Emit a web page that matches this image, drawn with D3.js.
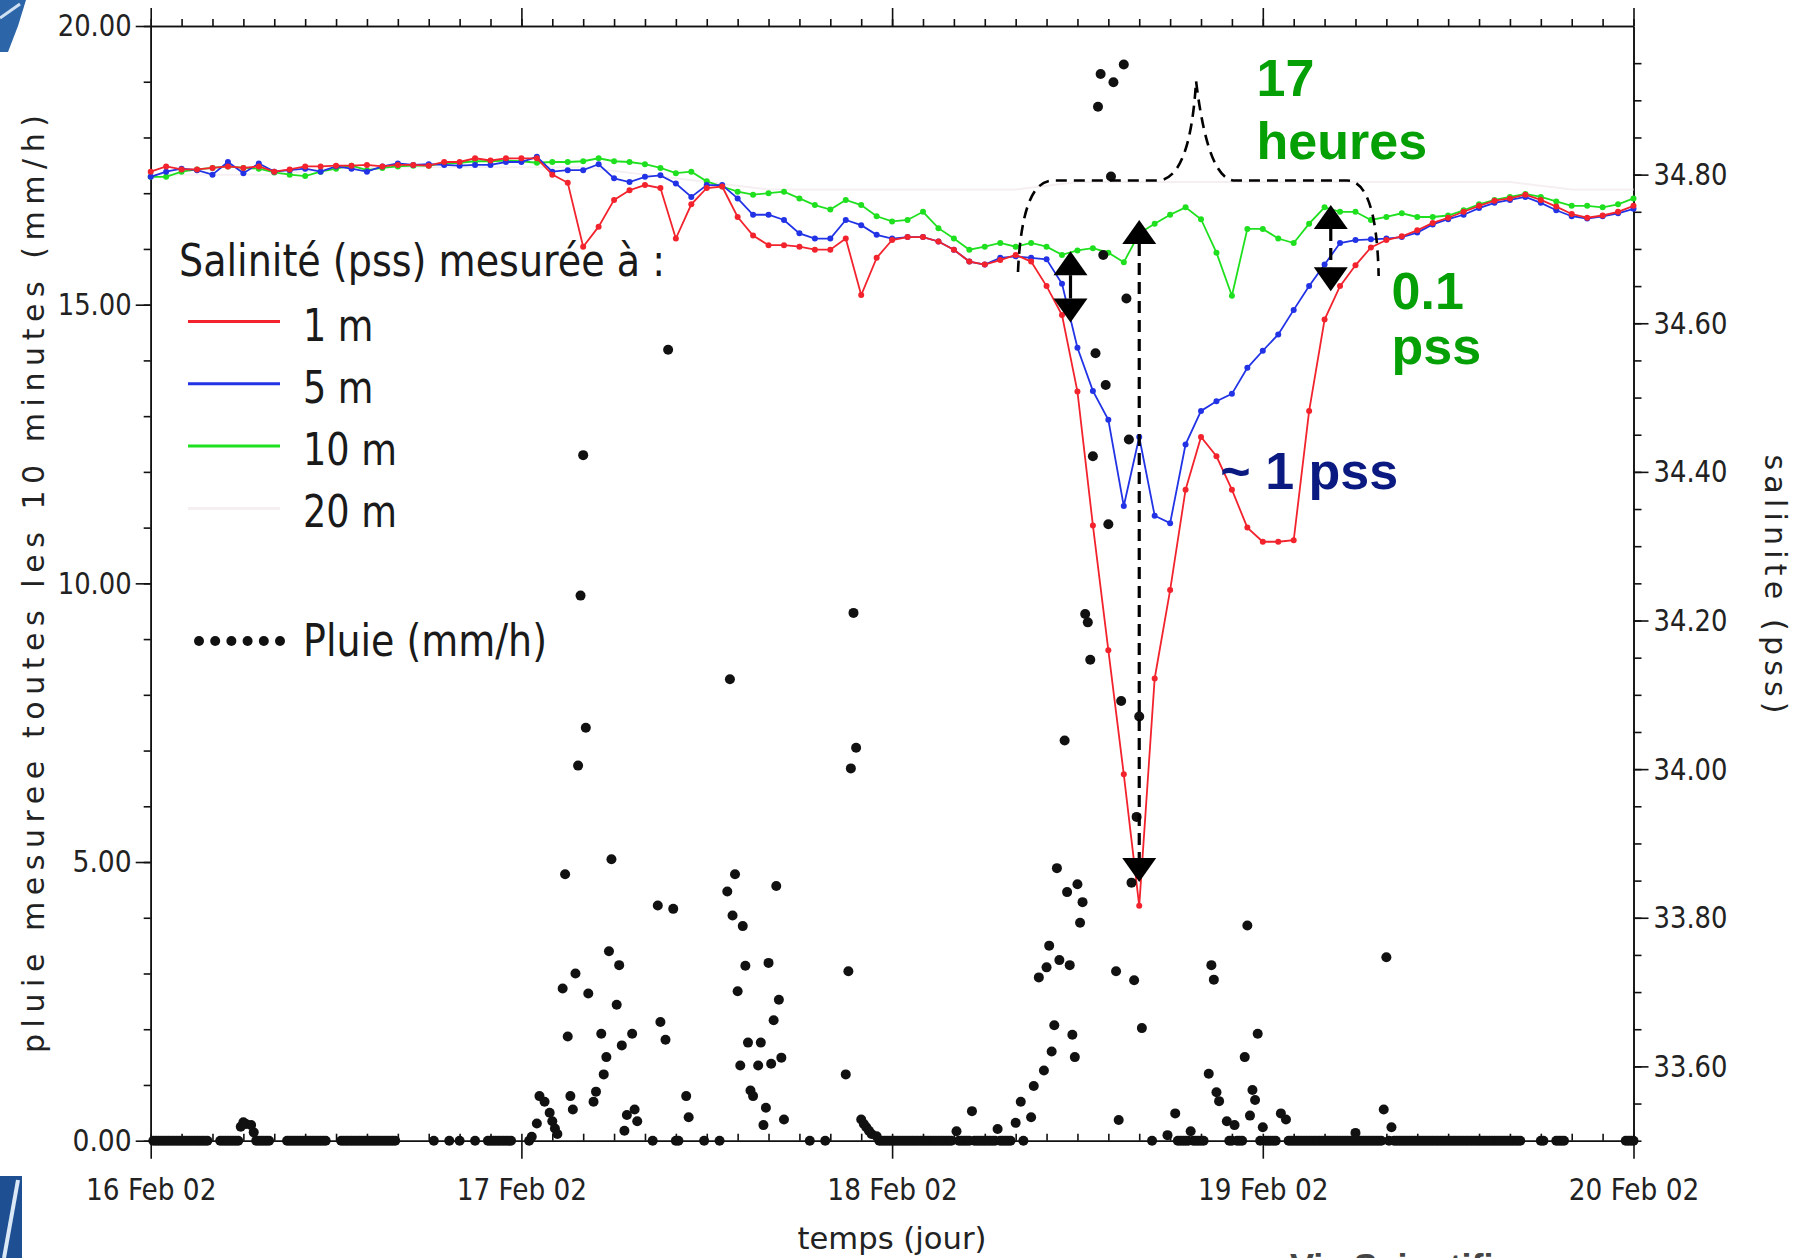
<!DOCTYPE html>
<html lang="fr">
<head>
<meta charset="UTF-8">
<title>Salinité et pluie, 16-20 Feb 2002</title>
<script src="https://d3js.org/d3.v7.min.js"></script>
<style>
  body { margin: 0; background: #fff; }
  svg { display: block; background: #fff; }
  .axis path, .axis line { stroke: #111; stroke-width: 1.6; }
  .axis text { font-family: "DejaVu Sans Condensed", "DejaVu Sans", sans-serif; font-size: 31px; fill: #222; }
  .title { font-family: "DejaVu Sans", sans-serif; fill: #222; }
  .legend text { font-family: "DejaVu Sans Condensed", "DejaVu Sans", sans-serif; font-size: 45px; fill: #1a1a1a; }
  .note { font-family: "Liberation Sans", Arial, sans-serif; font-weight: bold; font-size: 52px; }
</style>
</head>
<body>
<svg id="chart" width="1805" height="1258"></svg>
<script>
// hourly salinity (pss), from 16 Feb 02 00:00 to 20 Feb 02 00:00
const sal1m = [
  34.804, 34.811, 34.807, 34.807, 34.809, 34.811, 34.809, 34.811, 34.804, 34.807, 34.811, 34.811,
  34.812, 34.812, 34.813, 34.811, 34.813, 34.813, 34.812, 34.817, 34.817, 34.822, 34.819, 34.822,
  34.822, 34.822, 34.800, 34.789, 34.703, 34.730, 34.766, 34.779, 34.786, 34.782, 34.714, 34.760,
  34.782, 34.784, 34.743, 34.718, 34.705, 34.705, 34.703, 34.699, 34.699, 34.714, 34.638, 34.688,
  34.712, 34.716, 34.716, 34.710, 34.699, 34.683, 34.679, 34.685, 34.692, 34.683, 34.650, 34.611,
  34.508, 34.328, 34.160, 33.993, 33.816, 34.122, 34.241, 34.376, 34.447, 34.421, 34.376, 34.325,
  34.306, 34.306, 34.308, 34.482, 34.605, 34.650, 34.678, 34.702, 34.712, 34.717, 34.725, 34.735,
  34.742, 34.750, 34.758, 34.765, 34.768, 34.773, 34.766, 34.757, 34.747, 34.742, 34.745, 34.750,
  34.758
]
const sal5m = [
  34.797, 34.804, 34.808, 34.806, 34.800, 34.817, 34.802, 34.815, 34.804, 34.806, 34.808, 34.804,
  34.811, 34.808, 34.804, 34.811, 34.815, 34.813, 34.814, 34.813, 34.812, 34.813, 34.813, 34.817,
  34.817, 34.824, 34.804, 34.806, 34.806, 34.814, 34.795, 34.790, 34.797, 34.799, 34.788, 34.770,
  34.786, 34.786, 34.768, 34.746, 34.746, 34.739, 34.721, 34.714, 34.714, 34.739, 34.732, 34.719,
  34.714, 34.716, 34.716, 34.710, 34.699, 34.683, 34.679, 34.688, 34.690, 34.688, 34.686, 34.653,
  34.567, 34.509, 34.470, 34.354, 34.447, 34.341, 34.331, 34.437, 34.482, 34.495, 34.505, 34.540,
  34.563, 34.585, 34.618, 34.650, 34.679, 34.708, 34.712, 34.713, 34.714, 34.716, 34.722, 34.733,
  34.740, 34.746, 34.755, 34.762, 34.766, 34.770, 34.762, 34.752, 34.744, 34.741, 34.744, 34.748,
  34.754
]
const sal10m = [
  34.797, 34.797, 34.804, 34.807, 34.809, 34.811, 34.809, 34.808, 34.803, 34.800, 34.798, 34.804,
  34.808, 34.812, 34.806, 34.809, 34.811, 34.812, 34.812, 34.815, 34.816, 34.818, 34.818, 34.819,
  34.818, 34.816, 34.817, 34.817, 34.818, 34.822, 34.818, 34.817, 34.814, 34.809, 34.802, 34.804,
  34.791, 34.784, 34.777, 34.773, 34.775, 34.777, 34.768, 34.759, 34.753, 34.766, 34.759, 34.744,
  34.737, 34.739, 34.750, 34.728, 34.714, 34.699, 34.703, 34.708, 34.703, 34.708, 34.703, 34.692,
  34.698, 34.701, 34.695, 34.682, 34.721, 34.734, 34.746, 34.756, 34.740, 34.695, 34.637, 34.727,
  34.727, 34.714, 34.708, 34.734, 34.756, 34.750, 34.750, 34.739, 34.743, 34.748, 34.743, 34.743,
  34.745, 34.752, 34.760, 34.766, 34.770, 34.774, 34.770, 34.764, 34.758, 34.758, 34.756, 34.760,
  34.768
]
// 20 m sensor: barely visible, read every 4 hours
const sal20mHours = [0, 4, 8, 12, 16, 20, 24, 28, 32, 36, 40, 44, 48, 52, 56, 60, 64, 68, 72, 76, 80, 84, 88, 92, 96]
const sal20m = [34.80, 34.80, 34.80, 34.81, 34.81, 34.81, 34.81, 34.81, 34.80, 34.79, 34.78, 34.78, 34.78,
  34.78, 34.78, 34.79, 34.79, 34.79, 34.79, 34.79, 34.79, 34.79, 34.79, 34.78, 34.78]

// rain (mm/h), 10-minute readings: non-zero readings [hour, value]
const rainReadings = [
  [5.83, 0.25], [6.0, 0.33], [6.17, 0.3], [6.5, 0.28], [6.67, 0.15],
  [24.67, 0.07], [25.0, 0.31], [25.17, 0.8], [25.5, 0.7], [25.83, 0.5], [26.0, 0.35], [26.17, 0.22], [26.33, 0.12],
  [26.67, 2.73], [26.83, 4.78], [27.0, 1.87], [27.17, 0.80], [27.33, 0.56], [27.5, 3.0], [27.67, 6.73], [27.83, 9.78],
  [28.0, 12.30], [28.17, 7.41], [28.33, 2.64], [28.67, 0.70], [28.83, 0.88], [29.17, 1.92], [29.33, 1.19], [29.5, 1.50],
  [29.67, 3.40], [29.83, 5.05], [30.17, 2.44], [30.33, 3.15], [30.5, 1.71], [30.67, 0.18], [30.83, 0.46], [31.17, 1.92],
  [31.33, 0.56], [31.5, 0.35], [32.83, 4.22], [33.0, 2.13], [33.33, 1.81], [33.5, 14.19], [33.83, 4.16], [34.67, 0.80],
  [34.83, 0.42],
  [37.33, 4.47], [37.5, 8.28], [37.67, 4.04], [37.83, 4.78], [38.0, 2.68], [38.17, 1.35], [38.33, 3.85], [38.5, 3.14],
  [38.67, 1.76], [38.83, 0.90], [39.0, 0.80], [39.33, 1.35], [39.5, 1.76], [39.67, 0.28], [39.83, 0.59], [40.0, 3.19],
  [40.17, 1.38], [40.33, 2.16], [40.5, 4.57], [40.67, 2.53], [40.83, 1.49], [41.0, 0.38],
  [45.0, 1.19], [45.17, 3.04], [45.33, 6.68], [45.5, 9.47], [45.67, 7.05], [46.0, 0.38], [46.17, 0.3], [46.33, 0.24],
  [46.5, 0.18], [46.67, 0.12], [47.0, 0.08],
  [52.17, 0.17], [53.17, 0.53], [54.83, 0.21], [56.0, 0.32], [56.33, 0.70],
  [57.0, 0.42], [57.17, 0.98], [57.5, 2.93], [57.83, 1.26], [58.0, 3.11], [58.17, 3.50], [58.33, 1.60], [58.5, 2.07],
  [58.67, 4.89], [58.83, 3.24], [59.17, 7.18], [59.33, 4.46], [59.5, 3.15], [59.67, 1.90], [59.83, 1.50], [60.0, 4.60],
  [60.17, 3.91], [60.33, 4.28], [60.5, 9.45], [60.67, 9.30], [60.83, 8.63], [61.0, 12.28], [61.17, 14.13], [61.33, 18.55],
  [61.5, 19.14], [61.67, 15.89], [61.83, 13.56], [62.0, 11.06], [62.17, 17.30], [62.33, 18.99], [62.5, 3.04], [62.67, 0.37],
  [62.83, 7.89], [63.0, 19.31], [63.17, 15.11], [63.33, 12.58], [63.5, 4.63], [63.67, 2.88], [63.83, 5.81], [64.0, 7.61],
  [64.17, 2.02],
  [65.83, 0.1], [66.33, 0.49], [67.33, 0.17], [68.5, 1.20], [68.67, 3.15], [68.83, 2.89], [69.0, 0.87], [69.17, 0.71],
  [69.67, 0.35], [70.17, 0.28], [70.83, 1.50], [71.0, 3.86], [71.17, 0.45], [71.33, 0.91], [71.5, 0.73], [71.67, 1.92],
  [72.0, 0.24], [73.17, 0.49], [73.5, 0.38], [78.0, 0.14], [79.83, 0.56], [80.0, 3.29], [80.33, 0.24]
]
// stretches of zero readings [from hour, to hour]
const zeroRuns = [
  [0.17, 3.83], [4.5, 5.67], [6.83, 7.67], [8.83, 11.33], [12.33, 15.83], [18.33, 18.33], [19.33, 19.33],
  [20.0, 20.0], [21.0, 21.0], [21.83, 23.33], [24.5, 24.5], [32.5, 32.5], [34.0, 34.33], [35.83, 35.83],
  [36.83, 36.83], [42.67, 42.67], [43.67, 43.67], [47.17, 52.0], [52.33, 53.0], [53.33, 54.67], [55.0, 55.83],
  [56.5, 56.5], [64.83, 64.83], [66.5, 67.17], [67.5, 68.33], [69.83, 70.0], [70.33, 70.67], [71.83, 71.83],
  [72.17, 73.0], [73.67, 79.67], [80.17, 80.17], [80.5, 88.67], [90.0, 90.17], [91.0, 91.5], [95.5, 96.0]
]

const rainTicks = [0, 5, 10, 15, 20]
const salTicks = [33.6, 33.8, 34.0, 34.2, 34.4, 34.6, 34.8]
const dayTicks = [0, 24, 48, 72, 96]

const series = [
  { label: "20 m", color: "#f6eff1", values: sal20m, hours: sal20mHours, dots: false },
  { label: "10 m", color: "#1fe01f", values: sal10m },
  { label: "5 m", color: "#2233e6", values: sal5m },
  { label: "1 m", color: "#f2232d", values: sal1m }
]

// annotations, placed in (hour, salinity)
const notes = [
  { text: "17", hour: 71.6, sal: 34.906, color: "#05a005" },
  { text: "heures", hour: 71.6, sal: 34.821, color: "#05a005" },
  { text: "0.1", hour: 80.34, sal: 34.619, color: "#05a005" },
  { text: "pss", hour: 80.34, sal: 34.545, color: "#05a005" },
  { text: "~ 1 pss", hour: 69.25, sal: 34.377, color: "#0a1a80" }
]
const arrows = [
  { hour: 59.55, top: 34.697, bottom: 34.601, dashed: false },
  { hour: 64.0, top: 34.739, bottom: 33.848, dashed: true },
  { hour: 76.4, top: 34.759, bottom: 34.643, dashed: true }
]
const brace = { leftEnd: [56.15, 34.669], corner: 34.792, left: 58.4, riseFrom: 65.15,
  peak: [67.68, 34.926], fallTo: 70.2, right: 77.45, rightEnd: [79.5, 34.6635] }

const svg = d3.select("#chart")
const mLeft = 150.7, mRight = 1633.5, mTop = 26, mBottom = 1140.7
const t0 = Date.UTC(2002, 1, 16)
const toDate = h => new Date(t0 + h * 3600e3)

const x = d3.scaleUtc().domain([toDate(0), toDate(96)]).range([mLeft, mRight])
const yRain = d3.scaleLinear().domain([0, 20]).range([mBottom, mTop])
const ySal = d3.scaleLinear().domain([33.5, 35]).range([mBottom, mTop])

// corner decorations of the slide
svg.append("path").attr("d", "M0,0H26L18,26L8,52H0Z").attr("fill", "#2c66a8")
svg.append("path").attr("d", "M0,18L20,4").attr("stroke", "#cfe0f2").attr("stroke-width", 3)
svg.append("path").attr("d", "M0,1176H22V1258H0Z").attr("fill", "#1f4f93")
svg.append("path").attr("d", "M4,1258L18,1180").attr("stroke", "#dbe8f5").attr("stroke-width", 4)
svg.append("text").attr("x", 1290).attr("y", 1280)
  .attr("font-family", "Liberation Sans, Arial, sans-serif").attr("font-weight", "bold")
  .attr("font-size", 36).attr("fill", "#444").text("Vie Scientifique")

function squeeze(sel, perChar) {
  sel.selectAll(".tick text")
    .attr("textLength", function () { return this.textContent.length * perChar })
    .attr("lengthAdjust", "spacingAndGlyphs")
}

const minorHours = d3.range(0, 97, 2).map(toDate)

// bottom axis
svg.append("g").attr("class", "axis").attr("transform", `translate(0,${mBottom})`)
  .call(d3.axisBottom(x).tickValues(minorHours).tickSize(-7).tickSizeOuter(0).tickFormat(""))
svg.append("g").attr("class", "axis").attr("transform", `translate(0,${mBottom})`)
  .call(d3.axisBottom(x).tickValues(dayTicks.map(toDate)).tickSize(18).tickSizeOuter(0)
    .tickPadding(19).tickFormat(d3.utcFormat("%d %b %y")))
  .call(squeeze, 14.5)

// top axis
svg.append("g").attr("class", "axis").attr("transform", `translate(0,${mTop})`)
  .call(d3.axisTop(x).tickValues(minorHours).tickSize(7).tickSizeOuter(0).tickFormat(""))
svg.append("g").attr("class", "axis").attr("transform", `translate(0,${mTop})`)
  .call(d3.axisTop(x).tickValues(dayTicks.map(toDate)).tickSize(18).tickSizeOuter(0).tickFormat(""))

// left axis, rain
svg.append("g").attr("class", "axis").attr("transform", `translate(${mLeft},0)`)
  .call(d3.axisLeft(yRain).tickValues(d3.range(0, 21)).tickSize(7).tickSizeOuter(0).tickFormat(""))
svg.append("g").attr("class", "axis").attr("transform", `translate(${mLeft},0)`)
  .call(d3.axisLeft(yRain).tickValues(rainTicks).tickSize(15).tickSizeOuter(0)
    .tickPadding(4).tickFormat(d3.format(".2f")))
  .call(squeeze, 14.8)

// right axis, salinity
svg.append("g").attr("class", "axis").attr("transform", `translate(${mRight},0)`)
  .call(d3.axisRight(ySal).tickValues(d3.range(30).map(i => 33.5 + i * 0.05)).tickSize(8)
    .tickSizeOuter(0).tickFormat(""))
svg.append("g").attr("class", "axis").attr("transform", `translate(${mRight},0)`)
  .call(d3.axisRight(ySal).tickValues(salTicks).tickSize(15).tickSizeOuter(0)
    .tickPadding(5).tickFormat(d3.format(".2f")))
  .call(squeeze, 14.8)

// axis titles
svg.append("text").attr("class", "title")
  .attr("transform", `translate(44,584) rotate(-90)`)
  .attr("text-anchor", "middle").attr("font-size", 30)
  .attr("textLength", 938).attr("lengthAdjust", "spacing")
  .text("pluie mesuree toutes les 10 minutes (mm/h)")
svg.append("text").attr("class", "title")
  .attr("transform", `translate(1765,584) rotate(90)`)
  .attr("text-anchor", "middle").attr("font-size", 30)
  .attr("textLength", 259).attr("lengthAdjust", "spacing")
  .text("salinite (pss)")
svg.append("text").attr("class", "title")
  .attr("x", 892).attr("y", 1249).attr("text-anchor", "middle").attr("font-size", 31)
  .attr("textLength", 189).attr("lengthAdjust", "spacingAndGlyphs")
  .text("temps (jour)")

// salinity lines
const line = d3.line().x(d => x(toDate(d[0]))).y(d => ySal(d[1]))
const lines = svg.append("g")
series.forEach(s => {
  const pts = s.values.map((v, i) => [s.hours ? s.hours[i] : i, v])
  lines.append("path").datum(pts)
    .attr("fill", "none").attr("stroke", s.color).attr("stroke-width", s.dots === false ? 2 : 1.8)
    .attr("d", line)
  if (s.dots !== false) {
    lines.append("g").selectAll("circle").data(pts).join("circle")
      .attr("cx", d => x(toDate(d[0]))).attr("cy", d => ySal(d[1]))
      .attr("r", 3).attr("fill", s.color)
  }
})

// rain dots
const rain = []
zeroRuns.forEach(([a, b]) => {
  for (let t = a; t <= b + 1e-6; t += 1 / 6) rain.push([t, 0])
})
rainReadings.forEach(d => rain.push(d))
svg.append("g").selectAll("circle").data(rain).join("circle")
  .attr("cx", d => x(toDate(d[0]))).attr("cy", d => yRain(d[1]))
  .attr("r", 5).attr("fill", "#111")

// legend
const legend = svg.append("g").attr("class", "legend")
legend.append("text").attr("x", 179).attr("y", 276)
  .attr("textLength", 486).attr("lengthAdjust", "spacingAndGlyphs")
  .text("Salinité (pss) mesurée à :")
const legendItems = ["1 m", "5 m", "10 m", "20 m"].map(l => series.find(s => s.label === l))
legendItems.forEach((s, i) => {
  const ly = 321.5 + i * 62.3
  legend.append("line").attr("x1", 188).attr("x2", 280).attr("y1", ly).attr("y2", ly)
    .attr("stroke", s.color).attr("stroke-width", 3)
  legend.append("text").attr("x", 303).attr("y", ly + 19)
    .attr("textLength", s.label.length * 23.5).attr("lengthAdjust", "spacingAndGlyphs")
    .text(s.label)
})
legend.selectAll(".pdot").data(d3.range(6)).join("circle")
  .attr("cx", i => 199 + i * 16.2).attr("cy", 641).attr("r", 5).attr("fill", "#111")
legend.append("text").attr("x", 303).attr("y", 656)
  .attr("textLength", 244).attr("lengthAdjust", "spacingAndGlyphs")
  .text("Pluie (mm/h)")

// brace (dashed)
const bx = h => x(toDate(h))
const p = d3.path()
const cy = ySal(brace.corner)
p.moveTo(bx(brace.leftEnd[0]), ySal(brace.leftEnd[1]))
p.quadraticCurveTo(bx(brace.leftEnd[0]) + 4, cy, bx(brace.left), cy)
p.lineTo(bx(brace.riseFrom), cy)
p.quadraticCurveTo(bx(brace.peak[0]) - 6, cy, bx(brace.peak[0]), ySal(brace.peak[1]))
p.quadraticCurveTo(bx(brace.peak[0]) + 12, cy, bx(brace.fallTo), cy)
p.lineTo(bx(brace.right), cy)
p.quadraticCurveTo(bx(brace.rightEnd[0]) - 2, cy, bx(brace.rightEnd[0]), ySal(brace.rightEnd[1]))
svg.append("path").attr("d", p.toString()).attr("fill", "none")
  .attr("stroke", "#000").attr("stroke-width", 2.6).attr("stroke-dasharray", "11,7")

// arrows
const headW = 34, headH = 24
const ag = svg.append("g")
arrows.forEach(a => {
  const ax = bx(a.hour), yt = ySal(a.top), yb = ySal(a.bottom)
  ag.append("line").attr("x1", ax).attr("x2", ax).attr("y1", yt + headH).attr("y2", yb - headH)
    .attr("stroke", "#000").attr("stroke-width", 3.2)
    .attr("stroke-dasharray", a.dashed ? "12,7" : null)
  ag.append("path").attr("d", `M${ax},${yt}L${ax - headW / 2},${yt + headH}L${ax + headW / 2},${yt + headH}Z`)
    .attr("fill", "#000")
  ag.append("path").attr("d", `M${ax},${yb}L${ax - headW / 2},${yb - headH}L${ax + headW / 2},${yb - headH}Z`)
    .attr("fill", "#000")
})

// annotation texts
svg.append("g").selectAll("text").data(notes).join("text")
  .attr("class", "note")
  .attr("x", d => bx(d.hour)).attr("y", d => ySal(d.sal))
  .attr("fill", d => d.color)
  .text(d => d.text)
</script>
</body>
</html>
